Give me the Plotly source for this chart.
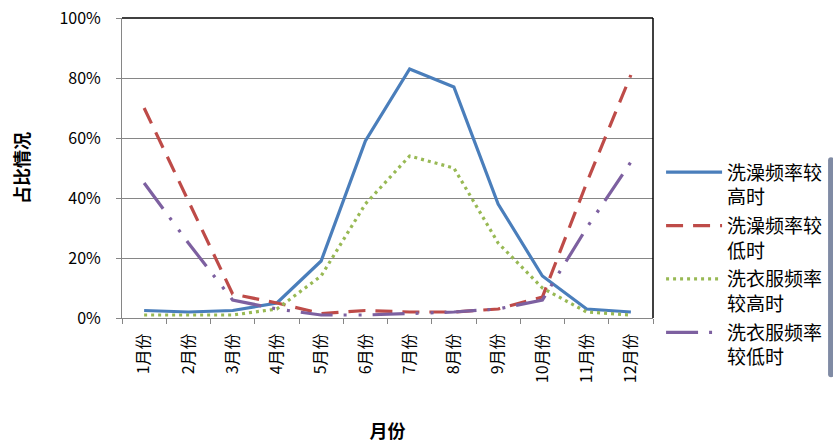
import plotly.graph_objects as go

# Monthly shares for each usage group
months = ["1月份", "2月份", "3月份", "4月份", "5月份", "6月份",
          "7月份", "8月份", "9月份", "10月份", "11月份", "12月份"]

bath_high = [0.025, 0.02, 0.025, 0.05, 0.19, 0.59, 0.83, 0.77, 0.38, 0.14, 0.03, 0.02]
bath_low = [0.70, 0.39, 0.08, 0.05, 0.015, 0.025, 0.02, 0.02, 0.03, 0.07, 0.45, 0.81]
laundry_high = [0.01, 0.01, 0.01, 0.03, 0.14, 0.38, 0.54, 0.50, 0.25, 0.10, 0.02, 0.01]
laundry_low = [0.45, 0.25, 0.06, 0.03, 0.01, 0.01, 0.015, 0.02, 0.03, 0.06, 0.30, 0.52]

series = [
    ("洗澡频率较<br>高时", bath_high, "#4A7EBB", "solid"),
    ("洗澡频率较<br>低时", bath_low, "#BE4B48", "17px,10px"),
    ("洗衣服频率<br>较高时", laundry_high, "#98B954", "3px,4px"),
    ("洗衣服频率<br>较低时", laundry_low, "#7D60A0", "32px,11px,3px,12px,3px,11px"),
]

fig = go.Figure()
for i, (name, vals, color, dash) in enumerate(series):
    fig.add_trace(go.Scatter(
        x=months, y=vals, name=name, mode="lines", legendgroup=f"g{i}",
        line=dict(color=color, width=3.2, dash=dash),
    ))

cjk = "Noto Sans CJK SC"

fig.update_layout(
    width=833, height=443,
    margin=dict(l=122, r=180, t=18, b=125),
    paper_bgcolor="white", plot_bgcolor="white",
    font=dict(family=cjk, color="#000000"),
    showlegend=True,
    legend=dict(
        xref="container", yref="container",
        x=0.7936, y=0.654, xanchor="left", yanchor="top",
        font=dict(family=cjk, size=19, color="#000000"),
        itemwidth=56, valign="top", tracegroupgap=1,
        bgcolor="rgba(0,0,0,0)",
    ),
    xaxis=dict(
        type="category",
        range=[-0.5, len(months) - 0.5],
        automargin=False,
        showgrid=False,
        showline=True, linecolor="#868686", linewidth=1,
        ticks="outside", ticklen=5, tickcolor="#868686", tickson="boundaries",
        tickangle=-90,
        ticklabelstandoff=8,
        tickfont=dict(family=cjk, size=16),
        title=dict(text="<b>月份</b>", font=dict(family=cjk, size=18), standoff=48),
    ),
    yaxis=dict(
        range=[0, 1],
        automargin=False,
        tickvals=[0, 0.2, 0.4, 0.6, 0.8, 1.0],
        tickformat=".0%",
        showgrid=True, gridcolor="#868686", gridwidth=1,
        showline=True, linecolor="#868686", linewidth=1,
        ticks="outside", ticklen=5, tickcolor="#868686",
        ticklabelstandoff=12,
        zeroline=False,
        tickfont=dict(family=cjk, size=16),
        title=dict(text="<b>占比情况</b>", font=dict(family=cjk, size=18), standoff=25),
    ),
)

# Dark frame on the top and right sides of the plot area
fig.add_shape(type="line", xref="paper", yref="paper", x0=0, x1=1, y0=1, y1=1,
              line=dict(color="#000000", width=1.5))
fig.add_shape(type="line", xref="paper", yref="paper", x0=1, x1=1, y0=0, y1=1,
              line=dict(color="#000000", width=1.5))

fig.write_html("out.html")
